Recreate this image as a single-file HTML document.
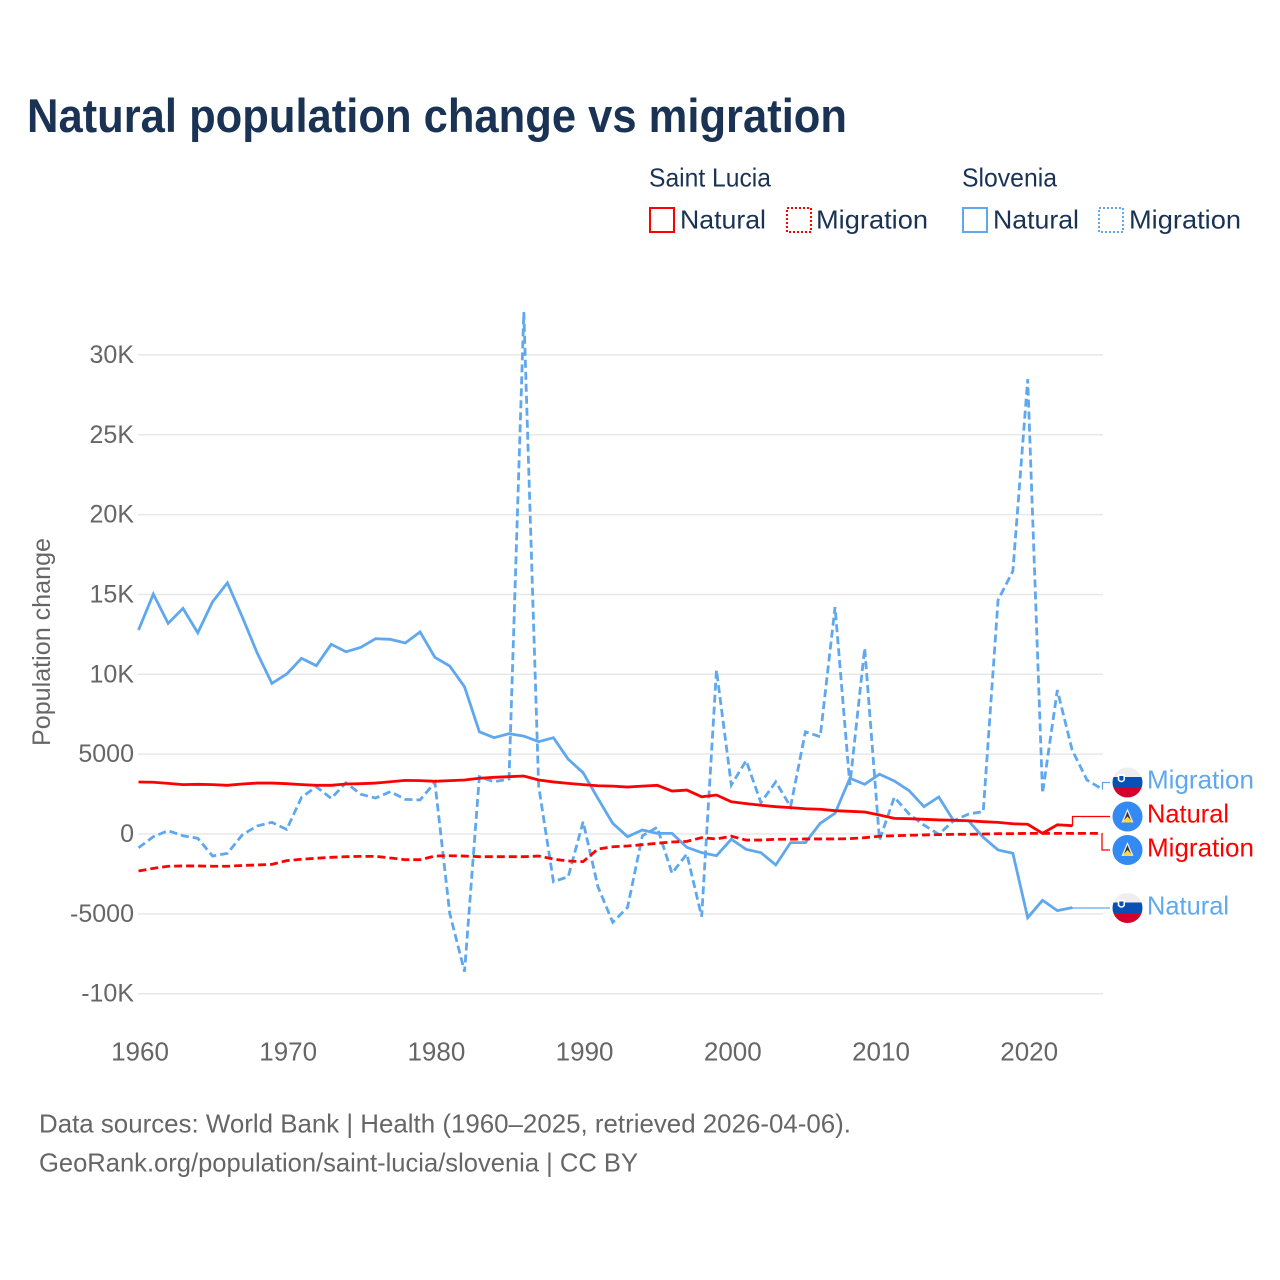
<!DOCTYPE html>
<html lang="en">
<head>
<meta charset="utf-8">
<title>Natural population change vs migration</title>
<style>
html,body{margin:0;padding:0;background:#fff;width:1280px;height:1280px;overflow:hidden}
svg{display:block}
text{font-family:"Liberation Sans",sans-serif}
</style>
</head>
<body>
<svg id="chart" xmlns="http://www.w3.org/2000/svg" width="1280" height="1280" viewBox="0 0 1280 1280">
  <defs>
    <clipPath id="flag-clip"><circle r="15"/></clipPath>
  </defs>
  <text x="27" y="132" font-size="47" font-weight="700" fill="#1a3354" textLength="820" lengthAdjust="spacingAndGlyphs">Natural population change vs migration</text>

  <g font-size="26" fill="#1a3354">
    <text x="649" y="186.5" textLength="122" lengthAdjust="spacingAndGlyphs">Saint Lucia</text>
    <text x="962" y="186.5" textLength="95" lengthAdjust="spacingAndGlyphs">Slovenia</text>
    <rect x="650" y="208" width="24" height="24" fill="none" stroke="#ff0000" stroke-width="2"/>
    <text x="680" y="228.5" textLength="86" lengthAdjust="spacingAndGlyphs">Natural</text>
    <rect x="787" y="208" width="24" height="24" fill="none" stroke="#ff0000" stroke-width="2" stroke-dasharray="2,2"/>
    <text x="816" y="228.5" textLength="112" lengthAdjust="spacingAndGlyphs">Migration</text>
    <rect x="963" y="208" width="24" height="24" fill="none" stroke="#5fa8ee" stroke-width="2"/>
    <text x="993" y="228.5" textLength="86" lengthAdjust="spacingAndGlyphs">Natural</text>
    <rect x="1099" y="208" width="24" height="24" fill="none" stroke="#5fa8ee" stroke-width="2" stroke-dasharray="2,2"/>
    <text x="1129" y="228.5" textLength="112" lengthAdjust="spacingAndGlyphs">Migration</text>
  </g>

  <g id="grid"></g>
  <g id="yticks"></g>
  <g id="xticks"></g>
  <text transform="translate(50,642) rotate(-90)" text-anchor="middle" font-size="25" fill="#666666" textLength="208" lengthAdjust="spacingAndGlyphs">Population change</text>
  <g id="series"></g>
  <g id="connectors"></g>

  <g>
    <g transform="translate(1127.5,782.5)">
      <g clip-path="url(#flag-clip)">
        <rect x="-15" y="-15" width="30" height="9.5" fill="#eeeeee"/>
        <rect x="-15" y="-5.5" width="30" height="10.5" fill="#0a4fb5"/>
        <rect x="-15" y="5" width="30" height="10" fill="#d6002a"/>
      </g>
      <path d="M-9.8,-8.5 H-2.5 V-2.5 Q-6,2 -9.8,-2.5 Z" fill="#ffffff"/>
      <path d="M-8.2,-6.5 H-4 V-3 Q-6,-0.5 -8.2,-3 Z" fill="#0a4fb5"/>
    </g>
    <text x="1147" y="788.5" font-size="26" fill="#5fa8ee" textLength="107" lengthAdjust="spacingAndGlyphs">Migration</text>
  </g>
  <g>
    <g transform="translate(1127.5,816.5)">
      <circle r="15" fill="#338af3"/>
      <path d="M0,-8 L6,6 H-6 Z" fill="#f0f0f0"/><path d="M0,-5 L4,5 H-4 Z" fill="#333333"/><path d="M0,0 L5.5,6 H-5.5 Z" fill="#ffda44"/>
    </g>
    <text x="1147" y="822.5" font-size="26" fill="#ff0000" textLength="82" lengthAdjust="spacingAndGlyphs">Natural</text>
  </g>
  <g>
    <g transform="translate(1127.5,850)">
      <circle r="15" fill="#338af3"/>
      <path d="M0,-8 L6,6 H-6 Z" fill="#f0f0f0"/><path d="M0,-5 L4,5 H-4 Z" fill="#333333"/><path d="M0,0 L5.5,6 H-5.5 Z" fill="#ffda44"/>
    </g>
    <text x="1147" y="856.5" font-size="26" fill="#ff0000" textLength="107" lengthAdjust="spacingAndGlyphs">Migration</text>
  </g>
  <g>
    <g transform="translate(1127.5,908)">
      <g clip-path="url(#flag-clip)">
        <rect x="-15" y="-15" width="30" height="9.5" fill="#eeeeee"/>
        <rect x="-15" y="-5.5" width="30" height="10.5" fill="#0a4fb5"/>
        <rect x="-15" y="5" width="30" height="10" fill="#d6002a"/>
      </g>
      <path d="M-9.8,-8.5 H-2.5 V-2.5 Q-6,2 -9.8,-2.5 Z" fill="#ffffff"/>
      <path d="M-8.2,-6.5 H-4 V-3 Q-6,-0.5 -8.2,-3 Z" fill="#0a4fb5"/>
    </g>
    <text x="1147" y="914.5" font-size="26" fill="#5fa8ee" textLength="82" lengthAdjust="spacingAndGlyphs">Natural</text>
  </g>

  <g font-size="26" fill="#666666">
    <text x="39" y="1132.5" textLength="812" lengthAdjust="spacingAndGlyphs">Data sources: World Bank | Health (1960–2025, retrieved 2026-04-06).</text>
    <text x="39" y="1171.5" textLength="599" lengthAdjust="spacingAndGlyphs">GeoRank.org/population/saint-lucia/slovenia | CC BY</text>
  </g>
</svg>
<script>
const yTickValues = [30000, 25000, 20000, 15000, 10000, 5000, 0, -5000, -10000];
const yTickLabels = ["30K", "25K", "20K", "15K", "10K", "5000", "0", "-5000", "-10K"];
const xTickYears = [1960, 1970, 1980, 1990, 2000, 2010, 2020];
const startYear = 1960;

const sloveniaNatural = [12770,15024,13190,14130,12600,14540,15730,13600,11350,9430,10020,11000,10540,11880,11410,11690,12230,12190,11960,12650,11060,10520,9220,6400,6030,6280,6130,5780,6030,4680,3840,2230,670,-170,250,40,40,-830,-1170,-1360,-330,-960,-1170,-1940,-540,-540,670,1300,3490,3110,3740,3320,2710,1710,2320,830,830,-210,-1000,-1210,-5240,-4150,-4800,-4610];
const sloveniaMigration = [-860,-170,210,-110,-270,-1380,-1210,-60,500,730,290,2300,2960,2230,3210,2490,2250,2650,2170,2130,3240,-4960,-8620,3590,3270,3440,32680,3000,-2990,-2670,770,-3300,-5530,-4590,-110,420,-2460,-1250,-5180,10270,3070,4590,1960,3270,1710,6400,6090,14210,3070,11640,-380,2300,1250,560,-20,830,1250,1400,14650,16460,28480,2550,9010,5260,3380,2820];
const saintLuciaNatural = [3255,3240,3170,3090,3110,3090,3050,3130,3190,3190,3150,3090,3050,3050,3130,3150,3190,3270,3360,3340,3300,3340,3380,3490,3550,3590,3630,3380,3260,3170,3090,3020,3000,2940,3000,3050,2690,2750,2330,2440,2020,1900,1800,1710,1650,1580,1550,1460,1420,1380,1190,980,960,920,880,860,830,770,730,640,610,40,580,520];
const saintLuciaMigration = [-2320,-2150,-2020,-2000,-2000,-2020,-2020,-1970,-1940,-1900,-1670,-1580,-1520,-1460,-1420,-1400,-1400,-1500,-1610,-1610,-1380,-1360,-1380,-1420,-1420,-1420,-1420,-1380,-1570,-1690,-1730,-940,-800,-750,-670,-580,-500,-460,-230,-310,-140,-380,-380,-330,-330,-310,-310,-310,-290,-230,-140,-110,-80,-60,-40,-20,-20,0,20,20,40,40,40,40,40,40];

const NS = "http://www.w3.org/2000/svg";
const BLUE = "#5fa8ee";
const RED = "#ff0000";

function xScale(year) { return 138.5 + (year - 1960) * 14.82; }
function yScale(value) { return 834 - value * 0.01597; }
function make(tag, attrs) {
  const el = document.createElementNS(NS, tag);
  for (const k in attrs) el.setAttribute(k, attrs[k]);
  return el;
}

const grid = document.getElementById("grid");
const yTicks = document.getElementById("yticks");
yTickValues.forEach(function (v, i) {
  const line = make("line", { x1: 138, x2: 1103, y1: yScale(v), y2: yScale(v), stroke: "#e8e8e8", "stroke-width": 1.5 });
  
  
  grid.appendChild(line);
  const t = make("text", { x: 134, y: yScale(v) + 8, "text-anchor": "end", "font-size": 25, fill: "#666666" });
  
  
  t.textContent = yTickLabels[i];
  yTicks.appendChild(t);
});

const xTicks = document.getElementById("xticks");
xTickYears.forEach(function (yr) {
  const t = make("text", { x: xScale(yr) + 1.5, y: 1060.5, "text-anchor": "middle", "font-size": 26, fill: "#666666" });
  
  
  t.textContent = yr;
  xTicks.appendChild(t);
});

function pointsFor(values) {
  return values.map(function (v, i) { return xScale(startYear + i).toFixed(2) + "," + yScale(v).toFixed(2); }).join(" ");
}
const seriesGroup = document.getElementById("series");
function drawSeries(values, color, dash, name) {
  const p = make("polyline", { points: pointsFor(values), fill: "none", stroke: color, "stroke-width": 2.8, "stroke-linejoin": "miter" });
  if (dash) p.setAttribute("stroke-dasharray", dash);
  
  
  seriesGroup.appendChild(p);
}
drawSeries(sloveniaMigration, BLUE, "8,4", "line-slovenia-migration");
drawSeries(sloveniaNatural, BLUE, null, "line-slovenia-natural");
drawSeries(saintLuciaMigration, RED, "8,4", "line-saint-lucia-migration");
drawSeries(saintLuciaNatural, RED, null, "line-saint-lucia-natural");

const connectors = document.getElementById("connectors");
function drawConnector(values, color, labelY, midX, name) {
  const lastIndex = values.length - 1;
  const x0 = xScale(startYear + lastIndex);
  const y0 = yScale(values[lastIndex]);
  const d = "M" + x0 + "," + y0 + " H" + midX + " V" + labelY + " H1110";
  const p = make("path", { d: d, fill: "none", stroke: color, "stroke-width": 1.3 });
  
  
  connectors.appendChild(p);
}
drawConnector(sloveniaMigration, BLUE, 782.5, 1102.5, "connector-slovenia-migration");
drawConnector(saintLuciaNatural, RED, 816.5, 1072.5, "connector-saint-lucia-natural");
drawConnector(saintLuciaMigration, RED, 850, 1102, "connector-saint-lucia-migration");
drawConnector(sloveniaNatural, BLUE, 908, 1072.5, "connector-slovenia-natural");
</script>
</body>
</html>
